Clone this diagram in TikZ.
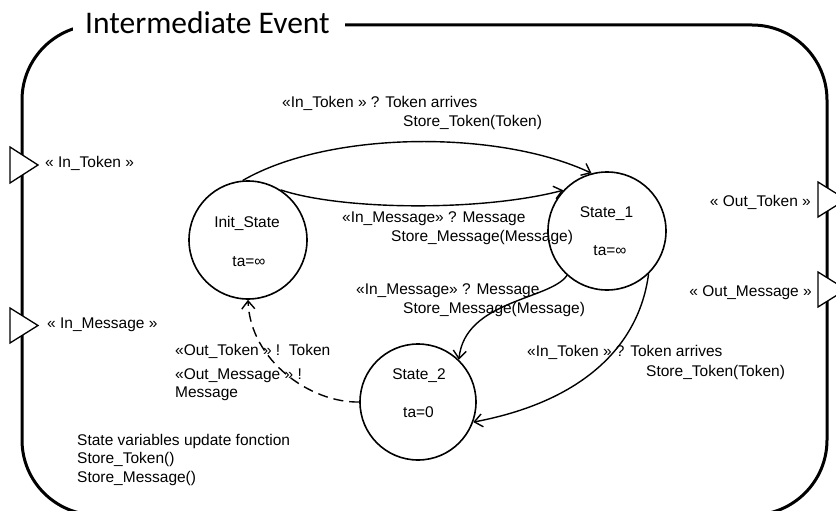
\documentclass[tikz,border=0pt]{standalone}
\usepackage{fontspec}
\setmainfont{Liberation Sans}
\newfontfamily\titlefont{Carlito}
\usetikzlibrary{arrows.meta}
\begin{document}
\begin{tikzpicture}[x=1pt,y=-1pt,
  frame/.style={line width=3pt},
  port/.style={draw=black,fill=white,line width=1.3pt,line join=miter},
  statebox/.style={circle,draw=black,line width=1.6pt,minimum size=118pt,inner sep=0pt},
  edge/.style={line width=1.4pt,-{Straight Barb[length=8pt,width=13pt]}},
  dashedge/.style={edge,dash pattern=on 10pt off 6pt},
  lbl/.style={font=\fontsize{15.5}{18}\selectfont,inner sep=0pt,anchor=base west},
  lblr/.style={lbl,anchor=base east},
  lblc/.style={lbl,anchor=base}
]
\useasboundingbox (0,0) rectangle (836,511);
% frame
\draw[frame,rounded corners=75pt] (22,25) rectangle (827,515);
\fill[white] (73,3) rectangle (345,45);
\node[inner sep=0pt,anchor=base west,font=\titlefont\fontsize{31.5}{36}\selectfont] (title) at (85,33.3) {Intermediate Event};

% ports
\draw[port] (10,147) -- (38,165) -- (10,183) -- cycle;
\draw[port] (10,308) -- (38,325.5) -- (10,343) -- cycle;
\draw[port] (818,182) -- (846,199.5) -- (818,217) -- cycle;
\draw[port] (818,272) -- (846,289.5) -- (818,307) -- cycle;
\node[lbl] (pin1) at (45,167) {« In\_Token »};
\node[lbl] (pin2) at (47,328) {« In\_Message »};
\node[lblr] (pout1) at (811,206) {« Out\_Token »};
\node[lblr] (pout2) at (812,296) {« Out\_Message »};

% states
\node[statebox] (init) at (248,240) {};
\node[lblc] (initname) at (247,227) {Init\_State};
\node[lblc] (initta) at (249,266) {ta=∞};
\node[statebox] (s1) at (607,231) {};
\node[lblc] (s1name) at (606.5,217) {State\_1};
\node[lblc] (s1ta) at (610,255) {ta=∞};
\node[statebox,minimum size=116pt] (s2) at (418,402) {};
\node[lblc] (s2name) at (419,379) {State\_2};
\node[lblc] (s2ta) at (418.5,417) {ta=0};

% transitions
\draw[edge] (init.95) .. controls (330,130) and (500,130) .. (s1.105);
\draw[edge] (init.57) .. controls (340,210) and (480,212) .. (s1.137);
\draw[edge] (s1.228) .. controls (550,300) and (465,300) .. (s2.46);
\draw[edge] (s1.314) .. controls (640,340) and (590,400) .. (s2.-20);
\draw[dashedge] (s2.180) .. controls (310,403) and (250,360) .. (init.270);

% transition labels
\node[lbl] (t1a) at (282,107) {«In\_Token » ? Token arrives};
\node[lbl] (t1b) at (403,126) {Store\_Token(Token)};
\node[lbl] (t2a) at (342,222) {«In\_Message» ? Message};
\node[lbl] (t2b) at (391,241) {Store\_Message(Message)};
\node[lbl] (t3a) at (356,294) {«In\_Message» ? Message};
\node[lbl] (t3b) at (403,313) {Store\_Message(Message)};
\node[lbl] (t4a) at (527,356) {«In\_Token » ? Token arrives};
\node[lbl] (t4b) at (646,376) {Store\_Token(Token)};
\node[lbl] (t5a) at (175,355) {«Out\_Token » !\ \ Token};
\node[lbl] (t5b) at (175,379) {«Out\_Message » !};
\node[lbl] (t5c) at (175,397) {Message};

% state variables
\node[lbl] (v1) at (77,445) {State variables update fonction};
\node[lbl] (v2) at (77,463) {Store\_Token()};
\node[lbl] (v3) at (77,482) {Store\_Message()};
\end{tikzpicture}
\end{document}
